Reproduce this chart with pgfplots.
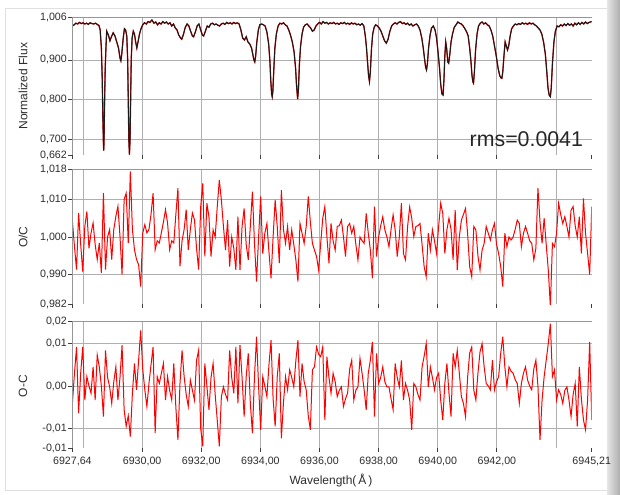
\documentclass[border=0pt]{standalone}
\usepackage{pgfplots}
\pgfplotsset{compat=1.18}
\usepackage{pgfplotstable}
\usepackage{fontspec}
\setmainfont{Liberation Sans}
\definecolor{gridc}{RGB}{175,175,175}
\definecolor{axisc}{RGB}{150,150,150}
\definecolor{txt}{RGB}{45,45,45}

\pgfplotstableread{
x f
6927.64 0.985
6927.70 0.988
6927.76 0.992
6927.82 0.990
6927.88 0.994
6927.94 0.991
6928.00 0.993
6928.06 0.990
6928.12 0.992
6928.18 0.989
6928.24 0.993
6928.30 0.991
6928.36 0.990
6928.42 0.992
6928.48 0.989
6928.54 0.986
6928.58 0.975
6928.62 0.930
6928.65 0.850
6928.67 0.760
6928.69 0.690
6928.70 0.673
6928.71 0.700
6928.73 0.800
6928.75 0.880
6928.78 0.940
6928.80 0.972
6928.86 0.962
6928.91 0.948
6928.96 0.958
6929.02 0.968
6929.08 0.960
6929.14 0.945
6929.20 0.930
6929.25 0.905
6929.28 0.898
6929.31 0.915
6929.36 0.955
6929.40 0.978
6929.44 0.975
6929.48 0.960
6929.51 0.900
6929.53 0.800
6929.55 0.700
6929.57 0.663
6929.59 0.700
6929.61 0.800
6929.63 0.900
6929.66 0.955
6929.70 0.972
6929.74 0.965
6929.78 0.945
6929.82 0.930
6929.86 0.945
6929.91 0.965
6929.96 0.978
6930.02 0.988
6930.08 0.993
6930.14 0.990
6930.20 0.996
6930.26 0.994
6930.33 1.000
6930.40 0.992
6930.46 0.995
6930.52 0.988
6930.58 0.993
6930.64 0.990
6930.70 0.996
6930.76 0.992
6930.82 0.995
6930.88 0.990
6930.94 0.993
6931.00 0.985
6931.06 0.990
6931.12 0.980
6931.18 0.975
6931.24 0.962
6931.30 0.955
6931.34 0.952
6931.40 0.965
6931.46 0.982
6931.52 0.990
6931.58 0.985
6931.64 0.972
6931.70 0.960
6931.74 0.958
6931.80 0.970
6931.86 0.985
6931.92 0.990
6931.98 0.975
6932.04 0.962
6932.08 0.960
6932.14 0.972
6932.20 0.985
6932.26 0.982
6932.32 0.990
6932.38 0.992
6932.44 0.988
6932.50 0.990
6932.56 0.987
6932.62 0.985
6932.68 0.990
6932.74 0.992
6932.80 0.989
6932.86 0.994
6932.92 0.991
6932.98 0.993
6933.04 0.990
6933.10 0.994
6933.16 0.991
6933.22 0.993
6933.28 0.990
6933.34 0.975
6933.40 0.955
6933.46 0.950
6933.52 0.958
6933.58 0.945
6933.64 0.940
6933.70 0.930
6933.74 0.915
6933.78 0.900
6933.81 0.895
6933.84 0.910
6933.88 0.945
6933.93 0.975
6933.98 0.988
6934.04 0.990
6934.10 0.988
6934.16 0.985
6934.22 0.970
6934.28 0.940
6934.32 0.900
6934.35 0.850
6934.38 0.815
6934.40 0.808
6934.42 0.820
6934.45 0.870
6934.49 0.930
6934.54 0.965
6934.60 0.985
6934.66 0.992
6934.72 0.990
6934.78 0.993
6934.84 0.988
6934.90 0.985
6934.96 0.975
6935.02 0.962
6935.08 0.945
6935.14 0.920
6935.19 0.880
6935.22 0.840
6935.26 0.802
6935.29 0.830
6935.32 0.890
6935.36 0.935
6935.41 0.965
6935.46 0.982
6935.52 0.988
6935.58 0.990
6935.64 0.985
6935.70 0.980
6935.76 0.972
6935.82 0.975
6935.88 0.985
6935.94 0.990
6936.00 0.994
6936.06 0.990
6936.12 0.996
6936.18 0.992
6936.24 0.994
6936.30 0.990
6936.36 0.993
6936.42 0.991
6936.48 0.994
6936.54 0.990
6936.60 0.992
6936.66 0.989
6936.72 0.993
6936.78 0.991
6936.84 0.994
6936.90 0.990
6936.96 0.992
6937.02 0.989
6937.08 0.993
6937.14 0.990
6937.20 0.992
6937.26 0.988
6937.32 0.990
6937.38 0.987
6937.44 0.991
6937.50 0.985
6937.55 0.960
6937.59 0.930
6937.63 0.890
6937.66 0.860
6937.69 0.846
6937.72 0.870
6937.76 0.930
6937.80 0.965
6937.85 0.982
6937.90 0.988
6937.96 0.985
6938.02 0.980
6938.08 0.972
6938.14 0.960
6938.20 0.948
6938.26 0.942
6938.32 0.952
6938.38 0.972
6938.44 0.985
6938.50 0.990
6938.56 0.993
6938.62 0.990
6938.68 0.994
6938.74 0.996
6938.80 0.991
6938.86 0.993
6938.92 0.989
6938.98 0.992
6939.04 0.987
6939.10 0.990
6939.16 0.985
6939.22 0.988
6939.28 0.990
6939.34 0.985
6939.40 0.975
6939.46 0.955
6939.51 0.930
6939.55 0.905
6939.59 0.882
6939.62 0.875
6939.65 0.890
6939.69 0.930
6939.74 0.962
6939.79 0.980
6939.85 0.985
6939.91 0.975
6939.96 0.955
6940.01 0.920
6940.06 0.880
6940.10 0.840
6940.14 0.815
6940.18 0.812
6940.21 0.850
6940.24 0.910
6940.27 0.945
6940.30 0.930
6940.34 0.895
6940.37 0.892
6940.41 0.915
6940.45 0.945
6940.50 0.965
6940.56 0.982
6940.62 0.988
6940.68 0.995
6940.74 0.992
6940.80 0.990
6940.86 0.985
6940.92 0.978
6940.98 0.970
6941.03 0.960
6941.08 0.930
6941.12 0.900
6941.16 0.860
6941.19 0.845
6941.21 0.842
6941.24 0.870
6941.28 0.925
6941.33 0.965
6941.38 0.985
6941.44 0.992
6941.50 0.995
6941.56 0.990
6941.62 0.993
6941.68 0.988
6941.74 0.985
6941.80 0.975
6941.86 0.960
6941.92 0.935
6941.98 0.910
6942.04 0.880
6942.10 0.860
6942.14 0.855
6942.17 0.854
6942.20 0.870
6942.24 0.910
6942.28 0.945
6942.32 0.935
6942.36 0.925
6942.40 0.935
6942.45 0.960
6942.50 0.978
6942.56 0.985
6942.62 0.990
6942.68 0.988
6942.74 0.991
6942.80 0.989
6942.86 0.993
6942.92 0.990
6942.98 0.992
6943.04 0.989
6943.10 0.993
6943.16 0.990
6943.22 0.992
6943.28 0.988
6943.34 0.985
6943.40 0.980
6943.46 0.975
6943.52 0.965
6943.58 0.945
6943.64 0.915
6943.69 0.870
6943.73 0.830
6943.77 0.812
6943.81 0.808
6943.84 0.830
6943.88 0.890
6943.93 0.945
6943.98 0.972
6944.04 0.985
6944.10 0.983
6944.16 0.988
6944.22 0.985
6944.28 0.990
6944.34 0.986
6944.40 0.991
6944.46 0.987
6944.52 0.990
6944.58 0.985
6944.64 0.992
6944.70 0.988
6944.76 0.993
6944.82 0.989
6944.88 0.994
6944.94 0.990
6945.00 0.995
6945.06 0.991
6945.12 0.994
6945.21 0.996
}\spec

\pgfplotstableread{
x oc omc
6927.64 1.0042 -0.0041
6927.71 0.9975 0.0030
6927.78 0.9913 0.0092
6927.85 1.0064 -0.0064
6927.92 0.9980 0.0030
6927.99 0.9908 0.0092
6928.06 1.0028 -0.0033
6928.13 1.0068 0.0022
6928.20 0.9970 0.0000
6928.27 1.0010 -0.0017
6928.34 1.0037 0.0045
6928.41 0.9980 -0.0033
6928.48 0.9940 0.0073
6928.55 0.9984 0.0045
6928.62 0.9904 0.0000
6928.69 1.0117 -0.0072
6928.76 0.9913 0.0084
6928.83 1.0000 0.0020
6928.90 1.0020 -0.0002
6928.97 0.9940 -0.0041
6929.04 1.0020 0.0010
6929.11 1.0055 0.0045
6929.18 1.0082 -0.0033
6929.25 1.0002 0.0020
6929.32 0.9900 0.0096
6929.39 1.0100 -0.0056
6929.46 1.0117 -0.0095
6929.53 0.9984 -0.0070
6929.60 1.0175 -0.0119
6929.67 1.0020 -0.0017
6929.74 0.9966 0.0053
6929.81 0.9940 -0.0009
6929.88 0.9926 0.0060
6929.95 0.9868 0.0131
6930.02 1.0010 0.0040
6930.09 1.0033 -0.0009
6930.16 1.0011 -0.0048
6930.23 1.0020 0.0006
6930.30 1.0060 0.0050
6930.37 1.0117 0.0092
6930.44 0.9966 -0.0111
6930.51 0.9990 0.0022
6930.58 0.9984 0.0006
6930.65 1.0011 0.0030
6930.72 1.0040 0.0053
6930.79 1.0073 -0.0033
6930.86 1.0037 0.0022
6930.93 0.9966 -0.0010
6931.00 0.9990 -0.0033
6931.07 0.9984 0.0053
6931.14 1.0060 -0.0050
6931.21 1.0130 -0.0127
6931.28 0.9922 0.0006
6931.35 0.9990 0.0084
6931.42 1.0020 0.0022
6931.49 1.0073 -0.0020
6931.56 0.9966 -0.0048
6931.63 1.0020 0.0014
6931.70 1.0064 -0.0010
6931.77 1.0046 -0.0033
6931.84 0.9970 0.0060
6931.91 0.9913 0.0084
6931.98 1.0080 -0.0100
6932.05 1.0143 -0.0142
6932.12 0.9948 0.0053
6932.19 1.0090 0.0000
6932.26 1.0054 -0.0056
6932.33 0.9948 0.0020
6932.40 1.0019 0.0053
6932.47 1.0000 -0.0020
6932.54 1.0080 -0.0080
6932.61 1.0152 -0.0142
6932.68 1.0099 -0.0025
6932.75 1.0028 -0.0002
6932.82 0.9965 -0.0020
6932.89 1.0045 -0.0033
6932.96 0.9921 0.0084
6933.03 1.0000 0.0020
6933.10 0.9970 -0.0017
6933.17 0.9912 0.0092
6933.24 1.0054 -0.0041
6933.31 0.9912 0.0096
6933.38 1.0028 0.0020
6933.45 1.0076 -0.0072
6933.52 0.9980 0.0022
6933.59 0.9939 0.0077
6933.66 1.0030 -0.0041
6933.73 1.0121 -0.0111
6933.80 0.9983 0.0022
6933.87 0.9881 0.0116
6933.94 1.0001 -0.0002
6934.01 1.0108 -0.0103
6934.08 0.9956 0.0022
6934.15 1.0010 0.0000
6934.22 1.0036 -0.0025
6934.29 0.9960 0.0050
6934.36 0.9890 0.0108
6934.43 1.0000 -0.0030
6934.50 1.0099 -0.0095
6934.57 1.0028 0.0022
6934.64 0.9930 0.0077
6934.71 1.0125 -0.0123
6934.78 1.0020 -0.0040
6934.85 0.9983 0.0022
6934.92 1.0028 -0.0009
6934.99 0.9965 0.0038
6935.06 1.0019 0.0020
6935.13 0.9980 -0.0002
6935.20 0.9939 0.0060
6935.27 0.9881 0.0108
6935.34 1.0036 -0.0025
6935.41 1.0010 0.0053
6935.48 0.9983 0.0010
6935.55 1.0028 -0.0009
6935.62 1.0108 -0.0070
6935.69 1.0040 -0.0103
6935.76 0.9983 0.0038
6935.83 0.9965 0.0045
6935.90 0.9948 0.0092
6935.97 0.9912 0.0075
6936.04 0.9983 0.0069
6936.11 1.0050 0.0092
6936.18 1.0081 -0.0080
6936.25 1.0001 0.0069
6936.32 0.9930 0.0020
6936.39 1.0036 -0.0017
6936.46 0.9990 0.0030
6936.53 0.9965 0.0010
6936.60 1.0028 -0.0025
6936.67 1.0030 -0.0010
6936.74 1.0045 -0.0002
6936.81 1.0001 -0.0048
6936.88 0.9948 -0.0030
6936.95 1.0028 -0.0017
6937.02 1.0036 0.0040
6937.09 1.0010 0.0061
6937.16 1.0028 -0.0033
6937.23 0.9980 -0.0010
6937.30 0.9939 -0.0002
6937.37 1.0000 0.0065
6937.44 0.9990 0.0030
6937.51 0.9983 -0.0009
6937.58 1.0063 -0.0056
6937.65 1.0010 0.0030
6937.72 0.9965 0.0061
6937.79 0.9890 0.0104
6937.86 1.0081 -0.0072
6937.93 0.9948 0.0077
6938.00 1.0000 0.0006
6938.07 1.0030 0.0020
6938.14 1.0054 0.0045
6938.21 1.0019 0.0010
6938.28 1.0000 -0.0002
6938.35 0.9974 -0.0002
6938.42 1.0020 -0.0030
6938.49 1.0059 -0.0056
6938.56 1.0019 0.0053
6938.63 0.9948 0.0020
6938.70 1.0000 -0.0002
6938.77 1.0090 0.0060
6938.84 0.9956 -0.0033
6938.91 0.9939 0.0006
6938.98 1.0028 -0.0010
6939.05 1.0080 -0.0033
6939.12 1.0050 -0.0103
6939.19 1.0001 0.0006
6939.26 1.0028 -0.0002
6939.33 1.0030 -0.0020
6939.40 1.0036 -0.0033
6939.47 0.9980 0.0045
6939.54 0.9921 0.0070
6939.61 0.9894 0.0100
6939.68 1.0010 -0.0002
6939.75 0.9965 0.0045
6939.82 1.0019 0.0020
6939.89 0.9990 -0.0009
6939.96 0.9956 0.0020
6940.03 1.0028 0.0030
6940.10 1.0090 -0.0033
6940.17 1.0063 -0.0080
6940.24 0.9956 0.0006
6940.31 1.0019 0.0053
6940.38 1.0050 -0.0017
6940.45 1.0020 -0.0072
6940.52 0.9939 0.0077
6940.59 1.0072 0.0045
6940.66 0.9912 0.0084
6940.73 1.0000 0.0030
6940.80 1.0045 -0.0025
6940.87 1.0060 -0.0041
6940.94 1.0076 -0.0072
6941.01 1.0010 0.0020
6941.08 0.9921 0.0077
6941.15 0.9894 0.0092
6941.22 1.0028 -0.0010
6941.29 1.0019 -0.0033
6941.36 0.9950 0.0030
6941.43 0.9912 0.0080
6941.50 0.9965 0.0100
6941.57 0.9983 0.0045
6941.64 1.0028 0.0006
6941.71 1.0010 0.0000
6941.78 0.9992 -0.0009
6941.85 1.0019 0.0061
6941.92 1.0036 -0.0009
6941.99 0.9980 0.0010
6942.06 0.9956 0.0022
6942.13 0.9921 0.0077
6942.20 0.9868 0.0116
6942.27 1.0010 0.0045
6942.34 0.9974 -0.0002
6942.41 1.0000 0.0045
6942.48 0.9992 0.0035
6942.55 1.0000 0.0030
6942.62 1.0020 0.0015
6942.69 1.0045 0.0006
6942.76 1.0036 -0.0041
6942.83 0.9974 0.0006
6942.90 1.0010 0.0030
6942.97 1.0028 0.0045
6943.04 1.0010 0.0014
6943.11 0.9990 0.0000
6943.18 0.9983 -0.0009
6943.25 0.9939 0.0040
6943.32 0.9970 0.0061
6943.39 1.0130 0.0000
6943.46 1.0040 -0.0127
6943.53 0.9983 -0.0033
6943.60 1.0050 0.0022
6943.67 0.9980 0.0061
6943.74 0.9912 0.0100
6943.81 0.9815 0.0147
6943.88 0.9983 0.0022
6943.95 0.9974 0.0038
6944.02 1.0010 -0.0033
6944.09 1.0090 -0.0009
6944.16 1.0060 -0.0020
6944.23 1.0036 -0.0041
6944.30 1.0054 -0.0010
6944.37 1.0028 -0.0002
6944.44 1.0000 -0.0033
6944.51 1.0072 -0.0072
6944.58 1.0081 -0.0020
6944.65 1.0030 0.0006
6944.72 1.0000 -0.0095
6944.79 1.0054 0.0045
6944.86 0.9956 -0.0030
6944.93 1.0103 -0.0080
6945.00 1.0010 -0.0103
6945.07 0.9956 -0.0033
6945.14 0.9900 0.0104
6945.21 1.0081 -0.0080
}\resid

\pgfplotsset{
  panel/.style={
    scale only axis, width=389.5pt,
    anchor=north west,
    xmin=6927.64, xmax=6945.21,
    axis line style={draw=none},
    clip mode=individual,
    scaled ticks=false,
    tick align=outside, xtick pos=bottom, ytick pos=left,
    major tick length=3pt, minor tick length=0pt,
    tick style={color=black!75, line width=0.6pt},
    xtick={6927.64,6930,6932,6934,6936,6938,6940,6942,6945.21},
    minor xtick={6928,6930,...,6944},
    xminorgrids=true, xmajorgrids=false, ymajorgrids=true,
    major grid style={color=gridc, line width=0.6pt},
    minor grid style={color=gridc, line width=0.6pt},
    extra y tick style={grid=none},
    ticklabel style={font=\fontsize{8}{9}\selectfont, color=txt},
    yticklabel style={inner xsep=1pt},
  },
}

\begin{document}
\begin{tikzpicture}
\path[use as bounding box] (0,0) rectangle (465pt,-370.5pt);
\fill[white] (0,0) rectangle (465pt,-370.5pt);
\draw[black!12, line width=0.6pt] (3.75pt,-6pt) rectangle (455.25pt,-367.5pt);
\shade[left color=black!10, right color=black!32] (455.25pt,0) rectangle (465pt,-370.5pt);

% top panel
\begin{axis}[panel, at={(54.3pt,-13.2pt)}, height=103.05pt,
  ymin=0.662, ymax=1.006,
  ytick={0.7,0.8,0.9}, yticklabels={{0,700},{0,800},{0,900}},
  extra y ticks={0.662,1.006}, extra y tick labels={{0,662},{1,006}},
  xticklabels={}]
\addplot[red!85!black, line width=0.95pt, no marks] table[x=x, y=f] {\spec};
\addplot[black!90, line width=0.7pt, no marks] table[x=x, y=f] {\spec};
\draw[axisc, line width=0.6pt] (rel axis cs:0,0) -- (rel axis cs:0,1) -- (rel axis cs:1,1);
\end{axis}

% middle panel
\begin{axis}[panel, at={(54.3pt,-127.1pt)}, height=101.25pt,
  ymin=0.982, ymax=1.018,
  ytick={0.99,1.0,1.01}, yticklabels={{0,990},{1,000},{1,010}},
  extra y ticks={0.982,1.018}, extra y tick labels={{0,982},{1,018}},
  xticklabels={}]
\addplot[red, line width=0.75pt, no marks] table[x=x, y=oc] {\resid};
\draw[axisc, line width=0.6pt] (rel axis cs:0,0) -- (rel axis cs:0,1) -- (rel axis cs:1,1);
\end{axis}

% bottom panel
\begin{axis}[panel, at={(54.3pt,-240.75pt)}, height=95.25pt,
  ymin=-0.0146, ymax=0.0153,
  ytick={-0.01,0,0.01}, yticklabels={{-0,01},{0,00},{0,01}},
  extra y ticks={-0.0146,0.0153}, extra y tick labels={{-0,01},{0,02}},
  xticklabels={{6927,64},{6930,00},{6932,00},{6934,00},{6936,00},{6938,00},{6940,00},{6942,00},{6945,21}}]
\addplot[red, line width=0.75pt, no marks] table[x=x, y=omc] {\resid};
\draw[axisc, line width=0.6pt] (rel axis cs:0,0) -- (rel axis cs:0,1) -- (rel axis cs:1,1);
\end{axis}

\node[rotate=90, font=\fontsize{9}{11}\selectfont, color=txt] at (17.25pt,-64.5pt) {Normalized Flux};
\node[rotate=90, font=\fontsize{9}{11}\selectfont, color=txt] at (17.25pt,-177.75pt) {O/C};
\node[rotate=90, font=\fontsize{9}{11}\selectfont, color=txt] at (17.25pt,-289.5pt) {O-C};
\node[font=\fontsize{9}{11}\selectfont, color=txt] at (248.25pt,-360pt) {Wavelength(\,Å\,)};
\node[anchor=base west, font=\fontsize{16}{19}\selectfont, color=black!85] at (348.75pt,-110pt) {rms=0.0041};
\end{tikzpicture}
\end{document}
